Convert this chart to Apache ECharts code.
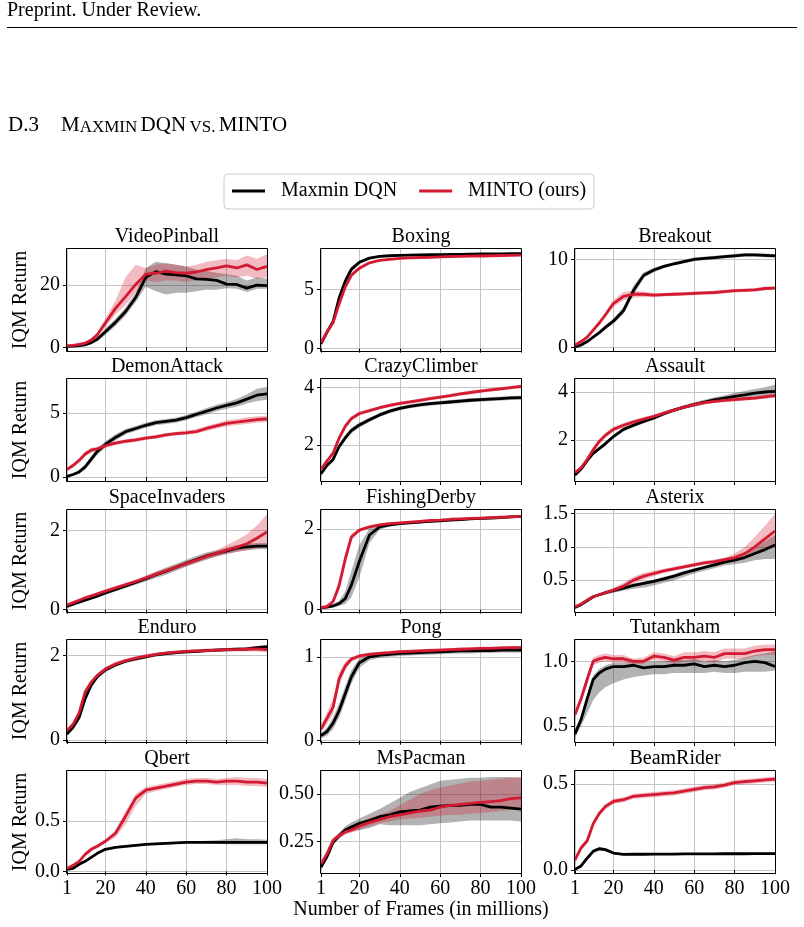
<!DOCTYPE html>
<html>
<head>
<meta charset="utf-8">
<script src="https://cdn.jsdelivr.net/npm/echarts@6/dist/echarts.min.js"></script>
<style>
  html, body { margin: 0; padding: 0; background: #fff; }
  #chart { width: 804px; height: 927px; }
</style>
</head>
<body>
<div id="chart"></div>
<script>
const frames = [1, 4, 7, 10, 13, 16, 20, 25, 30, 35, 40, 45, 50, 55, 60, 65, 70, 75, 80, 85, 90, 95, 100];
const xTicks = [1, 20, 40, 60, 80, 100];

const panelNames = ['VideoPinball', 'Boxing', 'Breakout', 'DemonAttack', 'CrazyClimber', 'Assault',
  'SpaceInvaders', 'FishingDerby', 'Asterix', 'Enduro', 'Pong', 'Tutankham', 'Qbert', 'MsPacman', 'BeamRider'];
const yMins = [-1.2, -0.2, -0.37, -0.31, 0.75, 0.306, -0.057, -0.06, 0.02, -0.05, -0.015, 0.377, -0.016, 0.083, -0.016];
const yMaxs = [31.6, 8.42, 11.17, 7.67, 4.30, 4.54, 2.51, 2.47, 1.556, 2.37, 1.2, 1.165, 1.0, 0.621, 0.577];
const yTicks = [[0, 20], [0, 5], [0, 10], [0, 5], [2, 4], [2, 4], [0, 2], [0, 2], [0.5, 1.0, 1.5],
  [0, 2], [0, 1], [0.5, 1.0], [0.0, 0.5], [0.25, 0.5], [0.0, 0.5]];
const yDecimals = [0, 0, 0, 0, 0, 0, 0, 0, 1, 0, 0, 1, 1, 2, 1];

// ---- VideoPinball
const videoPinballMaxmin   = [0.3,0.4,0.5,0.8,1.5,2.6,5.0,8.0,11.5,16.0,22.5,24.3,23.5,23.3,23.0,22.0,21.8,21.5,20.3,20.2,19.0,20.0,19.8];
const videoPinballMaxminLo = [0.1,0.2,0.3,0.5,1.0,1.9,4.0,6.8,10.2,14.5,19.5,18.0,17.0,17.5,17.5,18.0,18.5,18.5,19.0,18.8,17.8,18.8,18.8];
const videoPinballMaxminHi = [0.5,0.6,0.8,1.2,2.0,3.3,6.0,9.2,12.8,17.5,25.5,27.5,27.0,26.5,26.0,25.0,24.5,24.0,23.5,23.0,21.5,22.5,22.0];
const videoPinballMinto    = [0.5,0.6,0.9,1.3,2.3,4.0,7.8,12.5,16.3,20.2,23.5,23.8,24.5,24.0,23.8,24.2,25.0,25.5,26.2,25.5,26.5,25.0,26.0];
const videoPinballMintoLo  = [0.3,0.4,0.6,1.0,1.8,3.3,6.5,10.5,13.5,17.5,21.5,21.0,21.5,21.5,21.0,21.5,22.0,22.5,23.0,22.5,23.0,22.0,22.5];
const videoPinballMintoHi  = [0.7,0.9,1.2,1.8,2.8,4.8,9.2,15.0,22.5,26.5,25.5,26.5,27.0,26.5,26.0,26.5,27.5,28.0,28.5,28.0,29.5,28.5,30.0];
// ---- Boxing
const boxingMaxmin   = [0.4,1.4,2.3,4.3,5.7,6.7,7.3,7.65,7.8,7.85,7.88,7.9,7.92,7.94,7.95,7.96,7.97,7.98,8.0,8.0,8.01,8.02,8.03];
const boxingMaxminLo = [0.3,1.25,2.1,4.0,5.4,6.45,7.15,7.55,7.72,7.78,7.82,7.84,7.86,7.88,7.89,7.9,7.91,7.92,7.94,7.94,7.95,7.96,7.97];
const boxingMaxminHi = [0.5,1.55,2.5,4.6,6.0,6.95,7.45,7.75,7.88,7.92,7.94,7.96,7.98,8.0,8.01,8.02,8.03,8.04,8.06,8.06,8.07,8.08,8.09];
const boxingMinto    = [0.5,1.4,2.2,3.8,5.2,6.2,6.8,7.25,7.45,7.55,7.62,7.67,7.7,7.72,7.75,7.77,7.8,7.82,7.83,7.85,7.87,7.88,7.9];
const boxingMintoLo  = [0.4,1.3,2.05,3.6,5.0,6.0,6.65,7.15,7.38,7.49,7.57,7.62,7.65,7.67,7.7,7.72,7.75,7.77,7.78,7.8,7.82,7.83,7.85];
const boxingMintoHi  = [0.6,1.5,2.35,4.0,5.4,6.4,6.95,7.35,7.52,7.61,7.67,7.72,7.75,7.77,7.8,7.82,7.85,7.87,7.88,7.9,7.92,7.93,7.95];
// ---- Breakout
const breakoutMaxmin   = [0.1,0.3,0.7,1.2,1.7,2.3,3.0,4.2,6.5,8.2,8.8,9.2,9.5,9.75,10.0,10.1,10.2,10.3,10.4,10.5,10.5,10.45,10.4];
const breakoutMaxminLo = [0.05,0.2,0.55,1.05,1.5,2.05,2.7,3.8,6.0,7.9,8.55,9.0,9.3,9.55,9.8,9.9,10.0,10.1,10.2,10.3,10.3,10.25,10.2];
const breakoutMaxminHi = [0.15,0.4,0.85,1.35,1.9,2.55,3.3,4.6,7.0,8.5,9.05,9.4,9.7,9.95,10.2,10.3,10.4,10.5,10.6,10.7,10.7,10.65,10.6];
const breakoutMinto    = [0.3,0.7,1.2,2.0,2.8,3.7,5.0,5.8,6.05,6.05,5.95,6.0,6.05,6.1,6.15,6.2,6.25,6.35,6.45,6.5,6.55,6.7,6.75];
const breakoutMintoLo  = [0.2,0.55,1.0,1.8,2.55,3.4,4.6,5.35,5.65,5.75,5.7,5.8,5.85,5.9,5.95,6.0,6.05,6.15,6.25,6.3,6.35,6.5,6.55];
const breakoutMintoHi  = [0.4,0.85,1.4,2.2,3.05,4.0,5.4,6.3,6.45,6.35,6.2,6.2,6.25,6.3,6.35,6.4,6.45,6.55,6.65,6.7,6.75,6.9,6.95];
// ---- DemonAttack
const demonAttackMaxmin   = [0.05,0.2,0.4,0.8,1.4,2.0,2.55,3.1,3.55,3.8,4.05,4.25,4.35,4.45,4.65,4.9,5.15,5.4,5.6,5.8,6.1,6.4,6.5];
const demonAttackMaxminLo = [0.0,0.1,0.25,0.6,1.15,1.75,2.3,2.85,3.35,3.6,3.85,4.05,4.15,4.25,4.45,4.7,4.9,5.15,5.35,5.5,5.75,5.95,6.05];
const demonAttackMaxminHi = [0.1,0.3,0.55,1.0,1.65,2.25,2.8,3.35,3.75,4.0,4.25,4.45,4.55,4.65,4.85,5.1,5.4,5.65,5.85,6.1,6.45,6.9,7.05];
const demonAttackMinto    = [0.6,0.9,1.3,1.8,2.1,2.2,2.45,2.65,2.8,2.9,3.05,3.15,3.3,3.4,3.45,3.55,3.8,4.0,4.2,4.3,4.4,4.5,4.55];
const demonAttackMintoLo  = [0.45,0.75,1.15,1.6,1.9,2.05,2.3,2.5,2.65,2.75,2.9,3.0,3.15,3.25,3.3,3.4,3.6,3.8,3.95,4.05,4.15,4.25,4.3];
const demonAttackMintoHi  = [0.75,1.05,1.45,2.0,2.3,2.35,2.6,2.8,2.95,3.05,3.2,3.3,3.45,3.55,3.65,3.75,4.0,4.2,4.45,4.55,4.65,4.75,4.8];
// ---- CrazyClimber
const crazyClimberMaxmin   = [1.0,1.3,1.5,1.95,2.25,2.5,2.7,2.88,3.05,3.18,3.28,3.35,3.4,3.44,3.47,3.5,3.53,3.56,3.58,3.6,3.62,3.64,3.65];
const crazyClimberMaxminLo = [0.93,1.22,1.42,1.86,2.15,2.4,2.61,2.8,2.98,3.11,3.21,3.28,3.33,3.37,3.4,3.43,3.46,3.49,3.51,3.53,3.55,3.57,3.58];
const crazyClimberMaxminHi = [1.07,1.38,1.58,2.04,2.35,2.6,2.79,2.96,3.12,3.25,3.35,3.42,3.47,3.51,3.54,3.57,3.6,3.63,3.65,3.67,3.69,3.71,3.72];
const crazyClimberMinto    = [1.16,1.45,1.72,2.25,2.65,2.92,3.1,3.2,3.3,3.38,3.45,3.5,3.56,3.62,3.67,3.72,3.78,3.83,3.88,3.92,3.96,4.0,4.04];
const crazyClimberMintoLo  = [1.1,1.38,1.64,2.15,2.55,2.84,3.03,3.14,3.24,3.32,3.39,3.44,3.5,3.56,3.61,3.66,3.72,3.77,3.82,3.86,3.9,3.94,3.97];
const crazyClimberMintoHi  = [1.22,1.52,1.8,2.35,2.75,3.0,3.17,3.26,3.36,3.44,3.51,3.56,3.62,3.68,3.73,3.78,3.84,3.89,3.94,3.98,4.02,4.06,4.11];
// ---- Assault
const assaultMaxmin   = [0.55,0.8,1.15,1.45,1.65,1.85,2.15,2.45,2.62,2.78,2.92,3.1,3.25,3.37,3.48,3.58,3.67,3.75,3.82,3.88,3.95,4.0,4.03];
const assaultMaxminLo = [0.5,0.74,1.08,1.37,1.57,1.77,2.07,2.37,2.54,2.7,2.84,3.02,3.17,3.29,3.39,3.48,3.56,3.63,3.68,3.72,3.77,3.8,3.8];
const assaultMaxminHi = [0.6,0.86,1.22,1.53,1.73,1.93,2.23,2.53,2.7,2.86,3.0,3.18,3.33,3.45,3.57,3.68,3.78,3.87,3.96,4.04,4.13,4.2,4.3];
const assaultMinto    = [0.65,0.85,1.2,1.6,1.95,2.2,2.45,2.62,2.76,2.88,2.99,3.12,3.25,3.37,3.48,3.56,3.61,3.65,3.68,3.72,3.75,3.8,3.85];
const assaultMintoLo  = [0.58,0.78,1.12,1.5,1.85,2.1,2.35,2.53,2.68,2.8,2.92,3.05,3.18,3.3,3.41,3.49,3.54,3.58,3.61,3.65,3.68,3.72,3.76];
const assaultMintoHi  = [0.72,0.92,1.28,1.7,2.05,2.3,2.55,2.71,2.84,2.96,3.06,3.19,3.32,3.44,3.55,3.63,3.68,3.72,3.75,3.79,3.82,3.88,3.94];
// ---- SpaceInvaders
const spaceInvadersMaxmin   = [0.08,0.14,0.19,0.24,0.29,0.34,0.42,0.51,0.6,0.69,0.78,0.88,0.97,1.07,1.17,1.26,1.35,1.42,1.48,1.55,1.58,1.6,1.6];
const spaceInvadersMaxminLo = [0.05,0.11,0.16,0.21,0.26,0.31,0.38,0.46,0.55,0.63,0.71,0.8,0.88,0.98,1.08,1.17,1.26,1.34,1.4,1.46,1.5,1.52,1.52];
const spaceInvadersMaxminHi = [0.11,0.17,0.22,0.27,0.32,0.37,0.46,0.56,0.65,0.75,0.85,0.96,1.06,1.16,1.26,1.35,1.44,1.5,1.56,1.63,1.66,1.68,1.68];
const spaceInvadersMinto    = [0.12,0.18,0.24,0.3,0.35,0.4,0.47,0.55,0.63,0.71,0.8,0.89,0.98,1.07,1.16,1.25,1.34,1.42,1.5,1.57,1.66,1.8,1.96];
const spaceInvadersMintoLo  = [0.09,0.15,0.21,0.27,0.32,0.37,0.43,0.51,0.59,0.66,0.74,0.83,0.92,1.01,1.1,1.19,1.27,1.34,1.4,1.45,1.5,1.55,1.6];
const spaceInvadersMintoHi  = [0.15,0.21,0.27,0.33,0.38,0.43,0.51,0.59,0.67,0.76,0.86,0.95,1.04,1.13,1.22,1.31,1.41,1.5,1.62,1.75,1.9,2.12,2.4];
// ---- FishingDerby
const fishingDerbyMaxmin   = [0.04,0.06,0.09,0.15,0.27,0.6,1.2,1.85,2.05,2.1,2.13,2.15,2.17,2.19,2.2,2.22,2.23,2.25,2.26,2.27,2.28,2.3,2.31];
const fishingDerbyMaxminLo = [0.02,0.03,0.05,0.09,0.14,0.3,0.8,1.65,1.98,2.06,2.1,2.12,2.14,2.16,2.17,2.19,2.2,2.22,2.23,2.24,2.25,2.27,2.28];
const fishingDerbyMaxminHi = [0.06,0.09,0.14,0.22,0.45,0.95,1.6,2.02,2.1,2.14,2.16,2.18,2.2,2.22,2.23,2.25,2.26,2.28,2.29,2.3,2.31,2.33,2.34];
const fishingDerbyMinto    = [0.05,0.08,0.2,0.6,1.25,1.8,1.97,2.05,2.1,2.13,2.15,2.17,2.19,2.21,2.22,2.24,2.25,2.26,2.27,2.28,2.29,2.3,2.31];
const fishingDerbyMintoLo  = [0.03,0.06,0.15,0.48,1.1,1.7,1.93,2.02,2.07,2.1,2.13,2.15,2.17,2.19,2.2,2.22,2.23,2.24,2.25,2.26,2.27,2.28,2.29];
const fishingDerbyMintoHi  = [0.07,0.1,0.26,0.75,1.4,1.88,2.01,2.08,2.13,2.16,2.17,2.19,2.21,2.23,2.24,2.26,2.27,2.28,2.29,2.3,2.31,2.32,2.33];
// ---- Asterix
const asterixMaxmin   = [0.09,0.13,0.19,0.25,0.28,0.31,0.34,0.38,0.42,0.45,0.48,0.52,0.56,0.61,0.65,0.69,0.73,0.77,0.8,0.84,0.9,0.96,1.03];
const asterixMaxminLo = [0.08,0.12,0.17,0.23,0.26,0.28,0.31,0.34,0.37,0.39,0.42,0.46,0.5,0.55,0.6,0.64,0.68,0.72,0.74,0.76,0.8,0.82,0.82];
const asterixMaxminHi = [0.1,0.14,0.21,0.27,0.3,0.34,0.37,0.41,0.45,0.48,0.51,0.55,0.59,0.64,0.68,0.72,0.76,0.8,0.84,0.9,0.98,1.08,1.18];
const asterixMinto    = [0.1,0.14,0.2,0.25,0.28,0.31,0.35,0.41,0.5,0.56,0.6,0.64,0.67,0.7,0.73,0.76,0.78,0.81,0.84,0.9,1.0,1.12,1.24];
const asterixMintoLo  = [0.09,0.13,0.18,0.23,0.26,0.29,0.33,0.37,0.45,0.51,0.56,0.61,0.64,0.67,0.7,0.73,0.75,0.78,0.8,0.84,0.9,0.98,1.05];
const asterixMintoHi  = [0.11,0.15,0.22,0.27,0.3,0.33,0.38,0.46,0.55,0.61,0.64,0.67,0.7,0.73,0.76,0.79,0.81,0.84,0.9,1.0,1.15,1.32,1.5];
// ---- Enduro
const enduroMaxmin   = [0.14,0.3,0.53,0.98,1.3,1.5,1.66,1.78,1.87,1.92,1.97,2.02,2.05,2.07,2.09,2.1,2.12,2.13,2.14,2.15,2.16,2.19,2.21];
const enduroMaxminLo = [0.1,0.25,0.48,0.92,1.25,1.45,1.61,1.73,1.83,1.88,1.93,1.98,2.01,2.03,2.05,2.06,2.08,2.09,2.1,2.11,2.12,2.15,2.17];
const enduroMaxminHi = [0.18,0.35,0.58,1.04,1.35,1.55,1.71,1.83,1.91,1.96,2.01,2.06,2.09,2.11,2.13,2.14,2.16,2.17,2.18,2.19,2.2,2.23,2.25];
const enduroMinto    = [0.22,0.37,0.64,1.14,1.37,1.53,1.68,1.8,1.88,1.94,1.99,2.03,2.06,2.08,2.1,2.11,2.12,2.13,2.14,2.14,2.15,2.16,2.14];
const enduroMintoLo  = [0.18,0.32,0.58,1.08,1.32,1.48,1.63,1.75,1.84,1.9,1.95,1.99,2.02,2.04,2.06,2.07,2.08,2.09,2.1,2.1,2.1,2.1,2.08];
const enduroMintoHi  = [0.26,0.42,0.7,1.2,1.42,1.58,1.73,1.85,1.92,1.98,2.03,2.07,2.1,2.12,2.14,2.15,2.16,2.17,2.18,2.18,2.2,2.22,2.2];
// ---- Pong
const pongMaxmin   = [0.06,0.11,0.21,0.36,0.56,0.76,0.93,1.0,1.02,1.03,1.04,1.045,1.05,1.055,1.06,1.065,1.07,1.07,1.075,1.075,1.08,1.08,1.08];
const pongMaxminLo = [0.03,0.06,0.14,0.28,0.47,0.68,0.87,0.96,0.99,1.0,1.01,1.015,1.02,1.025,1.03,1.035,1.04,1.04,1.045,1.045,1.05,1.05,1.05];
const pongMaxminHi = [0.09,0.16,0.28,0.45,0.65,0.84,0.98,1.03,1.05,1.06,1.07,1.075,1.08,1.085,1.09,1.095,1.1,1.1,1.105,1.105,1.11,1.11,1.11];
const pongMinto    = [0.14,0.27,0.4,0.74,0.89,0.97,1.01,1.03,1.04,1.05,1.06,1.065,1.07,1.075,1.08,1.085,1.09,1.095,1.1,1.1,1.105,1.11,1.11];
const pongMintoLo  = [0.1,0.2,0.32,0.66,0.84,0.94,0.99,1.01,1.02,1.03,1.04,1.045,1.05,1.055,1.06,1.065,1.07,1.075,1.08,1.08,1.085,1.09,1.09];
const pongMintoHi  = [0.18,0.34,0.5,0.82,0.94,1.0,1.03,1.05,1.06,1.07,1.08,1.085,1.09,1.095,1.1,1.105,1.11,1.115,1.12,1.12,1.125,1.13,1.13];
// ---- Tutankham
const tutankhamMaxmin   = [0.44,0.55,0.71,0.86,0.91,0.94,0.96,0.96,0.97,0.95,0.96,0.96,0.97,0.97,0.98,0.96,0.97,0.96,0.97,0.99,1.0,0.99,0.96];
const tutankhamMaxminLo = [0.41,0.5,0.6,0.7,0.76,0.8,0.83,0.86,0.88,0.89,0.9,0.9,0.91,0.91,0.91,0.91,0.92,0.91,0.91,0.92,0.92,0.92,0.93];
const tutankhamMaxminHi = [0.47,0.58,0.74,0.89,0.94,0.97,0.99,0.99,1.0,0.99,1.0,1.0,1.01,1.01,1.02,1.0,1.01,1.0,1.01,1.03,1.05,1.06,1.08];
const tutankhamMinto    = [0.59,0.71,0.86,1.0,1.02,1.03,1.02,1.02,1.0,1.0,1.04,1.03,1.01,1.03,1.03,1.04,1.03,1.06,1.06,1.06,1.08,1.09,1.09];
const tutankhamMintoLo  = [0.56,0.68,0.82,0.97,0.99,1.0,0.99,0.99,0.98,0.98,1.01,1.0,0.98,1.0,1.0,1.0,0.99,1.02,1.02,1.02,1.04,1.05,1.05];
const tutankhamMintoHi  = [0.62,0.74,0.9,1.03,1.05,1.06,1.05,1.05,1.02,1.03,1.07,1.06,1.04,1.07,1.07,1.08,1.07,1.1,1.1,1.1,1.12,1.13,1.13];
// ---- Qbert
const qbertMaxmin   = [0.02,0.03,0.07,0.1,0.14,0.18,0.22,0.24,0.25,0.26,0.27,0.275,0.28,0.285,0.29,0.29,0.29,0.29,0.29,0.29,0.29,0.29,0.29];
const qbertMaxminLo = [0.01,0.02,0.06,0.09,0.13,0.17,0.21,0.23,0.24,0.25,0.26,0.265,0.27,0.275,0.28,0.28,0.28,0.275,0.27,0.27,0.27,0.27,0.27];
const qbertMaxminHi = [0.03,0.04,0.08,0.11,0.15,0.19,0.23,0.25,0.26,0.27,0.28,0.285,0.29,0.295,0.3,0.3,0.305,0.31,0.32,0.33,0.32,0.32,0.315];
const qbertMinto    = [0.03,0.06,0.1,0.17,0.22,0.25,0.3,0.38,0.55,0.73,0.81,0.83,0.85,0.87,0.89,0.9,0.9,0.89,0.9,0.9,0.89,0.89,0.88];
const qbertMintoLo  = [0.02,0.05,0.09,0.15,0.2,0.23,0.28,0.34,0.47,0.65,0.77,0.8,0.82,0.84,0.86,0.87,0.87,0.86,0.86,0.86,0.85,0.85,0.84];
const qbertMintoHi  = [0.04,0.07,0.11,0.19,0.24,0.27,0.32,0.41,0.6,0.77,0.84,0.86,0.88,0.9,0.92,0.93,0.93,0.92,0.93,0.94,0.93,0.93,0.92];
// ---- MsPacman
const msPacmanMaxmin   = [0.115,0.17,0.245,0.28,0.31,0.325,0.345,0.36,0.38,0.39,0.405,0.41,0.415,0.43,0.435,0.44,0.44,0.445,0.445,0.43,0.43,0.425,0.42];
const msPacmanMaxminLo = [0.1,0.155,0.23,0.265,0.29,0.3,0.31,0.32,0.34,0.335,0.335,0.335,0.335,0.34,0.345,0.35,0.355,0.36,0.36,0.36,0.36,0.36,0.355];
const msPacmanMaxminHi = [0.13,0.185,0.26,0.295,0.33,0.35,0.37,0.395,0.42,0.45,0.48,0.51,0.53,0.55,0.57,0.575,0.58,0.585,0.585,0.59,0.59,0.59,0.585];
const msPacmanMinto    = [0.13,0.185,0.255,0.28,0.3,0.31,0.33,0.35,0.365,0.38,0.39,0.4,0.41,0.415,0.43,0.44,0.445,0.45,0.455,0.46,0.465,0.475,0.48];
const msPacmanMintoLo  = [0.115,0.17,0.24,0.265,0.285,0.295,0.31,0.33,0.345,0.355,0.365,0.37,0.375,0.38,0.385,0.39,0.39,0.395,0.4,0.405,0.41,0.415,0.42];
const msPacmanMintoHi  = [0.145,0.2,0.27,0.295,0.315,0.33,0.35,0.375,0.39,0.41,0.44,0.47,0.5,0.52,0.535,0.545,0.555,0.565,0.57,0.575,0.58,0.585,0.59];
// ---- BeamRider
const beamRiderMaxmin   = [0.005,0.025,0.07,0.11,0.125,0.12,0.1,0.092,0.093,0.093,0.094,0.094,0.094,0.095,0.095,0.095,0.095,0.096,0.096,0.096,0.097,0.097,0.097];
const beamRiderMaxminLo = [0.0,0.018,0.06,0.1,0.115,0.11,0.093,0.086,0.087,0.087,0.088,0.088,0.088,0.089,0.089,0.089,0.089,0.09,0.09,0.09,0.091,0.091,0.091];
const beamRiderMaxminHi = [0.01,0.032,0.08,0.12,0.135,0.13,0.107,0.098,0.099,0.099,0.1,0.1,0.1,0.101,0.101,0.101,0.101,0.102,0.102,0.102,0.103,0.103,0.103];
const beamRiderMinto    = [0.06,0.13,0.17,0.27,0.33,0.37,0.4,0.41,0.43,0.435,0.44,0.445,0.45,0.46,0.47,0.48,0.485,0.495,0.51,0.515,0.52,0.525,0.53];
const beamRiderMintoLo  = [0.045,0.115,0.155,0.255,0.315,0.355,0.385,0.395,0.415,0.42,0.425,0.43,0.435,0.445,0.455,0.465,0.47,0.48,0.495,0.5,0.505,0.51,0.515];
const beamRiderMintoHi  = [0.075,0.145,0.185,0.285,0.345,0.385,0.415,0.425,0.445,0.45,0.455,0.46,0.465,0.475,0.485,0.495,0.5,0.51,0.525,0.53,0.535,0.54,0.545];

const maxminRuns = [
  [videoPinballMaxmin, videoPinballMaxminLo, videoPinballMaxminHi],
  [boxingMaxmin, boxingMaxminLo, boxingMaxminHi],
  [breakoutMaxmin, breakoutMaxminLo, breakoutMaxminHi],
  [demonAttackMaxmin, demonAttackMaxminLo, demonAttackMaxminHi],
  [crazyClimberMaxmin, crazyClimberMaxminLo, crazyClimberMaxminHi],
  [assaultMaxmin, assaultMaxminLo, assaultMaxminHi],
  [spaceInvadersMaxmin, spaceInvadersMaxminLo, spaceInvadersMaxminHi],
  [fishingDerbyMaxmin, fishingDerbyMaxminLo, fishingDerbyMaxminHi],
  [asterixMaxmin, asterixMaxminLo, asterixMaxminHi],
  [enduroMaxmin, enduroMaxminLo, enduroMaxminHi],
  [pongMaxmin, pongMaxminLo, pongMaxminHi],
  [tutankhamMaxmin, tutankhamMaxminLo, tutankhamMaxminHi],
  [qbertMaxmin, qbertMaxminLo, qbertMaxminHi],
  [msPacmanMaxmin, msPacmanMaxminLo, msPacmanMaxminHi],
  [beamRiderMaxmin, beamRiderMaxminLo, beamRiderMaxminHi]
];
const mintoRuns = [
  [videoPinballMinto, videoPinballMintoLo, videoPinballMintoHi],
  [boxingMinto, boxingMintoLo, boxingMintoHi],
  [breakoutMinto, breakoutMintoLo, breakoutMintoHi],
  [demonAttackMinto, demonAttackMintoLo, demonAttackMintoHi],
  [crazyClimberMinto, crazyClimberMintoLo, crazyClimberMintoHi],
  [assaultMinto, assaultMintoLo, assaultMintoHi],
  [spaceInvadersMinto, spaceInvadersMintoLo, spaceInvadersMintoHi],
  [fishingDerbyMinto, fishingDerbyMintoLo, fishingDerbyMintoHi],
  [asterixMinto, asterixMintoLo, asterixMintoHi],
  [enduroMinto, enduroMintoLo, enduroMintoHi],
  [pongMinto, pongMintoLo, pongMintoHi],
  [tutankhamMinto, tutankhamMintoLo, tutankhamMintoHi],
  [qbertMinto, qbertMintoLo, qbertMintoHi],
  [msPacmanMinto, msPacmanMintoLo, msPacmanMintoHi],
  [beamRiderMinto, beamRiderMintoLo, beamRiderMintoHi]
];

// layout of the 5x3 panel grid
const colLeft = [67, 321, 575];
const rowTop = [249, 379, 510, 640, 771];
const plotW = 200, plotH = 102;

const FONT = '"Liberation Serif", "DejaVu Serif", serif';
const BLACK = '#000000';
const RED = '#d41a32';
const BLACK_BAND = 'rgba(0,0,0,0.3)';
const RED_BAND = 'rgba(212,26,50,0.3)';
const GRID_COLOR = '#c4c4c4';

const pairs = arr => frames.map((x, k) => [x, arr[k]]);

// shaded band between lo and hi, one polygon placed through the axes
function bandSeries(i, lo, hi, fill) {
  return {
    type: 'custom', xAxisIndex: i, yAxisIndex: i, silent: true, z: 1,
    data: [[frames[0], lo[0]]],
    renderItem: (params, api) => {
      const pts = frames.map((x, k) => api.coord([x, hi[k]]));
      for (let k = frames.length - 1; k >= 0; k--) pts.push(api.coord([frames[k], lo[k]]));
      return { type: 'polygon', shape: { points: pts }, style: { fill: fill } };
    }
  };
}

function lineSeries(i, name, mean, color) {
  return {
    type: 'line', name: name, xAxisIndex: i, yAxisIndex: i, data: pairs(mean),
    symbol: 'none', showSymbol: false, z: 3, silent: true,
    lineStyle: { color: color, width: 2.8, join: 'round' }, itemStyle: { color: color }
  };
}

const grids = [], xAxes = [], yAxes = [], series = [], graphics = [];

panelNames.forEach((name, i) => {
  const r = Math.floor(i / 3), c = i % 3;
  const left = colLeft[c], top = rowTop[r];
  grids.push({ left: left, top: top, width: plotW, height: plotH, show: false });
  xAxes.push({
    type: 'value', gridIndex: i, min: 1, max: 100,
    axisLine: { show: false },
    axisTick: { show: true, customValues: xTicks, length: 4, lineStyle: { color: BLACK, width: 1 } },
    axisLabel: { show: r === 4, customValues: xTicks, margin: 6, color: BLACK,
      fontFamily: FONT, fontSize: 20 },
    splitLine: { show: true, lineStyle: { color: GRID_COLOR, width: 1 } }
  });
  const dec = yDecimals[i];
  yAxes.push({
    type: 'value', gridIndex: i, min: yMins[i], max: yMaxs[i],
    axisLine: { show: false },
    axisTick: { show: true, customValues: yTicks[i], length: 4, lineStyle: { color: BLACK, width: 1 } },
    axisLabel: { show: true, customValues: yTicks[i], margin: 7, color: BLACK,
      fontFamily: FONT, fontSize: 20, formatter: v => Number(v).toFixed(dec) },
    splitLine: { show: true, lineStyle: { color: GRID_COLOR, width: 1 } }
  });

  const mm = maxminRuns[i], mi = mintoRuns[i];
  series.push(bandSeries(i, mm[1], mm[2], BLACK_BAND));
  series.push(bandSeries(i, mi[1], mi[2], RED_BAND));
  series.push(lineSeries(i, 'Maxmin DQN', mm[0], BLACK));
  series.push(lineSeries(i, 'MINTO (ours)', mi[0], RED));

  // panel title
  graphics.push({
    type: 'text', x: left + plotW / 2, y: top - 12, silent: true,
    style: { text: name, font: '20px ' + FONT, fill: BLACK, textAlign: 'center', textVerticalAlign: 'middle' }
  });
  // axes box drawn on top
  graphics.push({
    type: 'rect', silent: true, z: 100,
    shape: { x: left - 0.5, y: top - 0.5, width: plotW + 1, height: plotH + 1 },
    style: { fill: 'none', stroke: BLACK, lineWidth: 1 }
  });
});

// y-axis label for each row
rowTop.forEach(top => {
  graphics.push({
    type: 'text', x: 21, y: top + plotH / 2, rotation: Math.PI / 2, silent: true,
    style: { text: 'IQM Return', font: '20px ' + FONT, fill: BLACK, textAlign: 'center', textVerticalAlign: 'middle' }
  });
});

// shared x label
graphics.push({
  type: 'text', x: colLeft[1] + plotW / 2, y: 910, silent: true,
  style: { text: 'Number of Frames (in millions)', font: '20px ' + FONT, fill: BLACK,
    textAlign: 'center', textVerticalAlign: 'middle' }
});

// page header
graphics.push({
  type: 'text', x: 7, y: 11, silent: true,
  style: { text: 'Preprint. Under Review.', font: '20px ' + FONT, fill: BLACK, textAlign: 'left', textVerticalAlign: 'middle' }
});
graphics.push({
  type: 'line', silent: true,
  shape: { x1: 7, y1: 27.5, x2: 797, y2: 27.5 },
  style: { stroke: BLACK, lineWidth: 1 }
});
graphics.push({
  type: 'text', x: 8, y: 125, silent: true,
  style: { text: 'D.3', font: '21px ' + FONT, fill: BLACK, textAlign: 'left', textVerticalAlign: 'middle' }
});
graphics.push({
  type: 'text', x: 61, y: 125, silent: true,
  style: {
    text: '{b|M}{s|AXMIN} {b|DQN} {s|VS.} {b|MINTO}',
    textAlign: 'left', textVerticalAlign: 'middle',
    rich: {
      b: { font: '21px ' + FONT, fill: BLACK, verticalAlign: 'bottom', lineHeight: 22 },
      s: { font: '17px ' + FONT, fill: BLACK, verticalAlign: 'bottom', lineHeight: 22 }
    }
  }
});

const chart = echarts.init(document.getElementById('chart'), null, { renderer: 'canvas' });
chart.setOption({
  animation: false,
  backgroundColor: '#ffffff',
  legend: {
    data: ['Maxmin DQN', 'MINTO (ours)'],
    left: 224, top: 174,
    orient: 'horizontal',
    icon: 'rect',
    itemWidth: 33, itemHeight: 3, itemGap: 22,
    padding: [6, 8, 7, 8],
    borderColor: '#cccccc', borderWidth: 1, borderRadius: 4,
    backgroundColor: '#ffffff',
    selectedMode: false,
    textStyle: { fontFamily: FONT, fontSize: 20, color: BLACK, lineHeight: 22, padding: [0, 0, 0, 11] }
  },
  grid: grids,
  xAxis: xAxes,
  yAxis: yAxes,
  series: series,
  graphic: graphics
});
</script>
</body>
</html>
